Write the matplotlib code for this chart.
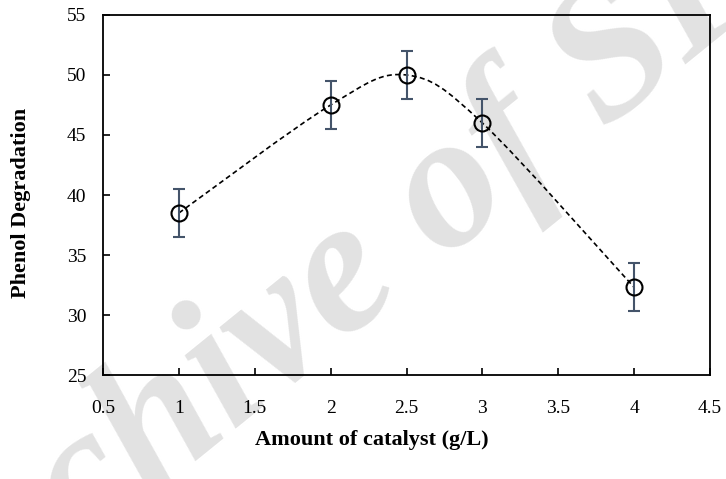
import numpy as np
import matplotlib
matplotlib.use('Agg')
import matplotlib.pyplot as plt
from matplotlib.path import Path
from matplotlib.patches import PathPatch

catalyst = [1, 2, 2.5, 3, 4]
degradation = [38.5, 47.5, 50.0, 46.0, 32.3]
error = [2, 2, 2, 2, 2]

x_ticks = [0.5, 1, 1.5, 2, 2.5, 3, 3.5, 4, 4.5]
y_ticks = [25, 30, 35, 40, 45, 50, 55]

plt.rcParams['font.family'] = 'Liberation Serif'


def smooth_path(xs, ys):
    # excel-like smoothed line: cubic bezier segments through the points
    pts = np.column_stack([xs, ys]).astype(float)
    n = len(pts)
    verts = [pts[0]]
    codes = [Path.MOVETO]
    for i in range(n - 1):
        p0 = pts[i - 1] if i > 0 else pts[i]
        p1 = pts[i]
        p2 = pts[i + 1]
        p3 = pts[i + 2] if i + 2 < n else pts[i + 1]
        c1 = p1 + (p2 - p0) / 6.0
        c2 = p2 - (p3 - p1) / 6.0
        verts.extend([c1, c2, p2])
        codes.extend([Path.CURVE4] * 3)
    return Path(verts, codes)


fig = plt.figure(figsize=(7.26, 4.79), dpi=100)
ax = fig.add_axes([0.1419, 0.2171, 0.8361, 0.7516])
ax.set_facecolor('none')

# watermark behind the axes
fig.text(0.50, 0.43, 'Archive of SID', fontsize=138, fontweight='bold', fontstyle='italic',
         color='#e2e2e2', rotation=39, ha='center', va='center', zorder=-1)

curve = PathPatch(smooth_path(catalyst, degradation), fill=False, edgecolor='black',
                  linewidth=1.2, linestyle=(0, (3, 2)), zorder=2)
ax.add_patch(curve)

ax.errorbar(catalyst, degradation, yerr=error, fmt='none', ecolor='#44546a',
            elinewidth=1.5, capsize=4, capthick=1.5, zorder=3)
ax.plot(catalyst, degradation, linestyle='none', marker='o', markersize=11.5,
        markerfacecolor='none', markeredgecolor='black', markeredgewidth=1.5, zorder=4)

ax.set_xlim(0.5, 4.5)
ax.set_ylim(25, 55)
ax.set_xticks(x_ticks)
ax.set_xticklabels(['0.5', '1', '1.5', '2', '2.5', '3', '3.5', '4', '4.5'])
ax.set_yticks(y_ticks)
ax.tick_params(direction='in', length=5, width=1.2, labelsize=14, colors='black')
ax.tick_params(axis='x', pad=18)
ax.tick_params(axis='y', pad=12)
for s in ax.spines.values():
    s.set_linewidth(1.3)

ax.set_xlabel('Amount of catalyst (g/L)', fontsize=16, fontweight='bold', labelpad=9)
ax.set_ylabel('Phenol Degradation', fontsize=16, fontweight='bold', labelpad=26)
ax.xaxis.label.set_x(0.443)
ax.yaxis.label.set_y(0.478)

fig.savefig('out.png', dpi=100)
